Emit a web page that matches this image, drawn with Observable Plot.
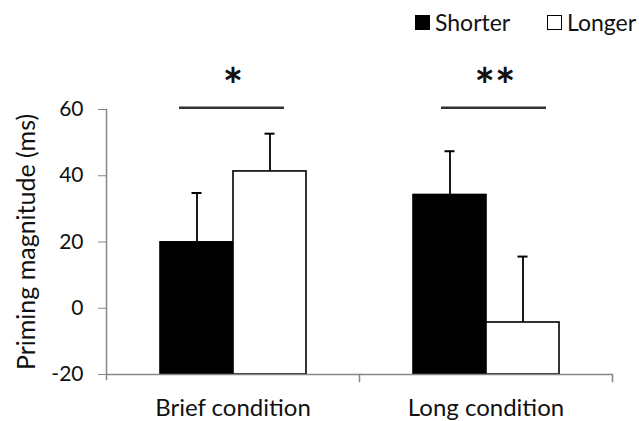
<!DOCTYPE html>
<html>
<head>
<meta charset="utf-8">
<script src="https://cdn.jsdelivr.net/npm/d3@7"></script>
<script src="https://cdn.jsdelivr.net/npm/@observablehq/plot@0.6"></script>
<style>
  html, body { margin: 0; padding: 0; background: #fff; overflow: hidden; }
  body { width: 639px; height: 421px; font-family: Lato, "Open Sans", sans-serif; }
  #legend { position: relative; height: 40px; width: 639px; font-size: 23px; color: #111; }
  #legend .item { position: absolute; top: 7px; display: flex; align-items: center; height: 30px; }
  #legend .sw { width: 13px; height: 13px; border: 1px solid #000; margin-right: 5px; box-sizing: content-box; }
</style>
</head>
<body>
<div id="legend"></div>
<div id="chart"></div>
<script>
// ---- data ----
const conditions = ["Brief condition", "Long condition"];
const durations = ["Shorter", "Longer"];
const shorterValues = [19.9, 34.2];
const longerValues = [41.3, -4.3];
const shorterErrors = [14.9, 13.2];
const longerErrors = [11.4, 19.9];
const yTicks = [-20, 0, 20, 40, 60];
const sigStars = ["*", "**"];
const swatchColors = ["#000000", "#ffffff"];

// ---- table ----
const rows = [];
conditions.forEach((c, i) => {
  rows.push({condition: c, series: "Shorter", value: shorterValues[i], err: shorterErrors[i]});
  rows.push({condition: c, series: "Longer", value: longerValues[i], err: longerErrors[i]});
});
const sig = conditions.map((c, i) => ({condition: c, stars: sigStars[i]}));
const sigShift = [0, 9];

// ---- legend ----
const legend = document.getElementById("legend");
const legendLeft = [415, 547];
durations.forEach((d, i) => {
  const it = document.createElement("div");
  it.className = "item";
  it.style.left = legendLeft[i] + "px";
  it.innerHTML = `<span class="sw" style="background:${swatchColors[i]}"></span><span>${d}</span>`;
  legend.appendChild(it);
});

const axisGray = "#868686";

const chart = Plot.plot({
  width: 639,
  height: 381,
  marginTop: 69,
  marginBottom: 47,
  marginLeft: 106,
  marginRight: 27,
  style: {fontFamily: "Lato, 'Open Sans', sans-serif", color: "#111", background: "#fff"},
  fx: {domain: conditions, padding: 0},
  x: {domain: durations, paddingInner: 0, paddingOuter: 0.726, axis: null},
  y: {domain: [-20, 60]},
  color: {domain: durations, range: swatchColors},
  marks: [
    Plot.barY(rows, {fx: "condition", x: "series", y1: -20, y2: "value", fill: "series", stroke: "#000", strokeWidth: 1.6}),
    Plot.ruleX(rows, {fx: "condition", x: "series", y1: "value", y2: d => d.value + d.err, stroke: "#000", strokeWidth: 1.8}),
    Plot.tickY(rows, {fx: "condition", x: "series", y: d => d.value + d.err, stroke: "#000", strokeWidth: 2, insetLeft: 31.5, insetRight: 31.5}),
    Plot.ruleY([-20], {stroke: axisGray, strokeWidth: 1.5}),
    Plot.frame({anchor: "left", facetAnchor: "left", stroke: axisGray, strokeWidth: 1.5, insetBottom: -5}),
    Plot.frame({anchor: "right", stroke: axisGray, strokeWidth: 1.5, insetTop: 265, insetBottom: -7}),
    Plot.axisY({ticks: yTicks, tickFormat: d => String(d), tickSize: 8, tickPadding: 15, fontSize: 21,
      stroke: axisGray, fill: "#111", label: null}),
    Plot.axisY({ticks: [], tickSize: 0, fontSize: 25, fill: "#111",
      label: "Priming magnitude (ms)", labelAnchor: "center", labelArrow: "none", labelOffset: 89}),
    Plot.axisFx({anchor: "bottom", tickSize: 0, tickPadding: 24, fontSize: 24, label: null, fill: "#111"}),
    ...sig.map((s, i) => Plot.ruleY([s], {fx: "condition", y: 60.5, stroke: "#333", strokeWidth: 2.5,
      insetLeft: 73 + sigShift[i], insetRight: 75 - sigShift[i]})),
    ...sig.map((s, i) => Plot.text([s], {fx: "condition", text: "stars", y: 66.5, dx: sigShift[i],
      fontSize: 48, fontWeight: "bold", fill: "#111", lineAnchor: "middle"}))
  ]
});
document.getElementById("chart").appendChild(chart);
</script>
</body>
</html>
